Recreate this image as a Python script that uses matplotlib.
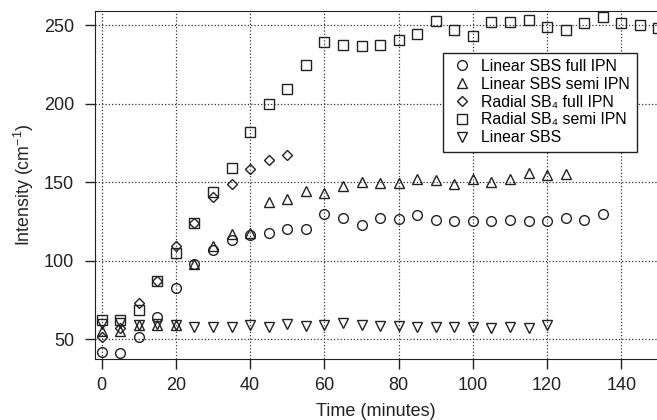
import numpy as np
import matplotlib.pyplot as plt

plt.rcParams['font.family'] = ['Liberation Sans', 'DejaVu Sans']
plt.rcParams['mathtext.fontset'] = 'custom'
plt.rcParams['mathtext.rm'] = 'Liberation Sans'
plt.rcParams['mathtext.default'] = 'regular'

# czas pomiaru (minuty) dla każdej serii
t_sq = np.arange(0, 151, 5)
t_circ = np.arange(0, 136, 5)
t_tri = np.arange(0, 126, 5)
t_dia = np.arange(0, 51, 5)
t_dtri = np.arange(0, 121, 5)

lin_full = [42, 41.4, 51.7, 64.4, 82.5, 98, 107, 113, 116.6, 117.4, 120, 120, 129.7, 127,
            122.7, 127, 126.6, 129, 126, 125, 125.3, 125.3, 126.2, 125.3, 125, 127, 126, 130]
lin_semi = [55, 55, 59, 59, 59, 98, 109.6, 117, 117.4, 137.2, 139.3, 144.6, 143.3, 147.8,
            150.3, 149.7, 149.3, 151.8, 151.5, 148.8, 152, 150.3, 152, 155.6, 154.6, 155.2]
rad_full = [51.7, 57, 73.3, 87.3, 109.4, 124.2, 140.8, 148.8, 158.2, 164.1, 167.1]
rad_semi = [62, 62.5, 68.7, 87.3, 105.1, 124.2, 143.9, 158.8, 182.1, 199.6, 209.3, 224.4,
            239.4, 237.3, 236.7, 237.3, 240.5, 244.3, 252.7, 246.8, 243.2, 252, 252, 253.2,
            248.5, 246.8, 251, 255.3, 251, 250, 248]
lin_sbs = [60, 60.2, 59.1, 59.5, 59.1, 57.6, 58, 58, 59.1, 57.6, 59.7, 58.7, 59.1, 60.6,
           59.1, 58.3, 58.7, 58, 58, 58, 57.6, 57, 58, 57, 59.1]

fig = plt.figure(figsize=(6.57, 4.2), dpi=100)
ax = fig.add_axes([0.1446, 0.1445, 0.8554, 0.83])

styl = dict(linestyle='none', fillstyle='none', color='#222222', mew=1.0)
ax.plot(t_circ, lin_full, marker='o', ms=7, label='Linear SBS full IPN', **styl)
ax.plot(t_tri, lin_semi, marker='^', ms=7, label='Linear SBS semi IPN', **styl)
ax.plot(t_dia, rad_full, marker='D', ms=5, label='Radial SB\u2084 full IPN', **styl)
ax.plot(t_sq, rad_semi, marker='s', ms=6.5, label='Radial SB\u2084 semi IPN', **styl)
ax.plot(t_dtri, lin_sbs, marker='v', ms=7, label='Linear SBS', **styl)

ax.set_xlim(-1.8, 149.6)
ax.set_ylim(37.3, 259.1)
ax.set_xticks(np.arange(0, 141, 20))
ax.set_yticks(np.arange(50, 251, 50))
ax.grid(True, linestyle=':', color='#333333', linewidth=0.9)
ax.tick_params(direction='out', length=7, width=1, labelsize=13, colors='#222222')
ax.tick_params(axis='x', pad=6)
ax.tick_params(axis='y', pad=8)
ax.spines['right'].set_visible(False)
for s in ['left', 'bottom', 'top']:
    ax.spines[s].set_color('#222222')

ax.set_xlabel('Time (minutes)', fontsize=13, color='#222222', labelpad=6)
ax.set_ylabel('Intensity (cm$^{-1}$)', fontsize=12.8, color='#222222', labelpad=6)

leg = ax.legend(loc='upper left', bbox_to_anchor=(0.62, 0.88), fontsize=11.4,
                fancybox=False, edgecolor='#222222', framealpha=1, borderpad=0.4,
                handlelength=1.6, handletextpad=0.4, labelspacing=0.18, borderaxespad=0)
leg.get_frame().set_linewidth(1.0)

plt.savefig('out.png', dpi=100)
